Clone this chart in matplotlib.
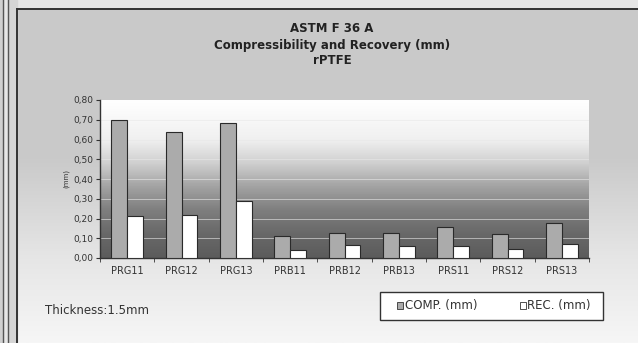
import numpy as np
import matplotlib.pyplot as plt
from matplotlib.colors import LinearSegmentedColormap
from matplotlib.patches import Patch, Rectangle

samples = ['PRG11', 'PRG12', 'PRG13', 'PRB11', 'PRB12', 'PRB13', 'PRS11', 'PRS12', 'PRS13']
comp = [0.70, 0.64, 0.685, 0.113, 0.125, 0.125, 0.156, 0.122, 0.176]
rec = [0.213, 0.217, 0.29, 0.04, 0.066, 0.063, 0.063, 0.047, 0.071]
yticks = [0.0, 0.1, 0.2, 0.3, 0.4, 0.5, 0.6, 0.7, 0.8]

W, H = 638, 343
fig = plt.figure(figsize=(W / 100, H / 100), dpi=100)
fig.patch.set_facecolor('#e6e6e6')

# chart area: grey on top, lighter near the bottom
bg = fig.add_axes([0, 0, 1, 1], zorder=-5)
bg.set_xlim(0, W)
bg.set_ylim(H, 0)
bg.axis('off')
bg_cmap = LinearSegmentedColormap.from_list(
    'chartbg', [(0, '#c9c9c9'), (0.45, '#cacaca'), (0.75, '#e6e6e6'), (1, '#f6f6f6')])
bg.imshow(np.linspace(0, 1, 200).reshape(-1, 1), cmap=bg_cmap, aspect='auto',
          extent=[17, W, H, 9], zorder=0)
bg.fill_between([0, 3], 0, H, color='#d0d0d0', zorder=0)
bg.fill_between([8, 17], 0, H, color='#d5d5d5', zorder=0)
for xl in (3, 8):
    bg.plot([xl, xl], [0, H], color='#555555', lw=1.0)
bg.plot([17, 17], [9, H], color='#333333', lw=1.4)
bg.plot([17, W], [9, 9], color='#333333', lw=1.4)

# legend frame
bg.add_patch(Rectangle((380, 292), 223, 28, facecolor='white', edgecolor='#333333', lw=1.0, zorder=2))

# plot area
ax = fig.add_axes([100 / W, 1 - 258 / H, 489 / W, 158 / H])
pa_cmap = LinearSegmentedColormap.from_list(
    'plotbg', [(0, '#5c5c5c'), (0.15, '#686868'), (0.3, '#7e7e7e'), (0.45, '#a2a2a2'),
               (0.6, '#cfcfcf'), (0.75, '#f0f0f0'), (1, '#ffffff')])
ax.imshow(np.linspace(0, 1, 200).reshape(-1, 1), cmap=pa_cmap, aspect='auto',
          extent=[0, 1, 0, 1], origin='lower', transform=ax.transAxes, zorder=0)

x = np.arange(len(samples))
bw = 0.29
ax.bar(x - bw / 2, comp, bw, color='#ababab', edgecolor='#2a2a2a', lw=0.8, zorder=3)
ax.bar(x + bw / 2, rec, bw, color='white', edgecolor='#2a2a2a', lw=0.8, zorder=3)

for y in yticks[1:-1]:
    ax.axhline(y, color='#e8e8e8', lw=0.7, alpha=0.6, zorder=1)

ax.set_xlim(-0.5, len(samples) - 0.5)
ax.set_ylim(0, 0.8)
ax.set_yticks(yticks)
ax.set_yticklabels([f'{v:.2f}'.replace('.', ',') for v in yticks], fontsize=6.5, color='#333333')
ax.set_xticks(x)
ax.set_xticklabels(samples, fontsize=7, color='#333333')
ax.set_xticks(np.arange(len(samples) + 1) - 0.5, minor=True)
ax.tick_params(axis='x', which='major', length=0, pad=6)
ax.tick_params(axis='x', which='minor', length=3, color='#333333')
ax.tick_params(axis='y', length=3, color='#333333', pad=2)
for side in ('top', 'right'):
    ax.spines[side].set_visible(False)
for side in ('left', 'bottom'):
    ax.spines[side].set_color('#333333')
    ax.spines[side].set_linewidth(1.0)
ax.set_ylabel('(mm)', fontsize=5, color='#333333', labelpad=3)

# titles
for text, y in (('ASTM F 36 A', 28), ('Compressibility and Recovery (mm)', 45), ('rPTFE', 61)):
    fig.text(332 / W, 1 - y / H, text, ha='center', va='center', fontsize=8.5,
             fontweight='bold', color='#222222')

fig.text(45 / W, 1 - 310 / H, 'Thickness:1.5mm', ha='left', va='center', fontsize=8.5, color='#333333')

handles = [Patch(facecolor='#ababab', edgecolor='#333333', lw=0.6, label='COMP. (mm)'),
           Patch(facecolor='white', edgecolor='#333333', lw=0.6, label='REC. (mm)')]
leg = fig.legend(handles=handles, loc='center', bbox_to_anchor=(494 / W, 1 - 306 / H),
                 ncol=2, fontsize=8.5, frameon=False, handlelength=0.5,
                 handleheight=0.5, handletextpad=0.15, columnspacing=3.6,
                 borderpad=0.2)
for t in leg.get_texts():
    t.set_color('#333333')

fig.savefig('out.png', dpi=100)
